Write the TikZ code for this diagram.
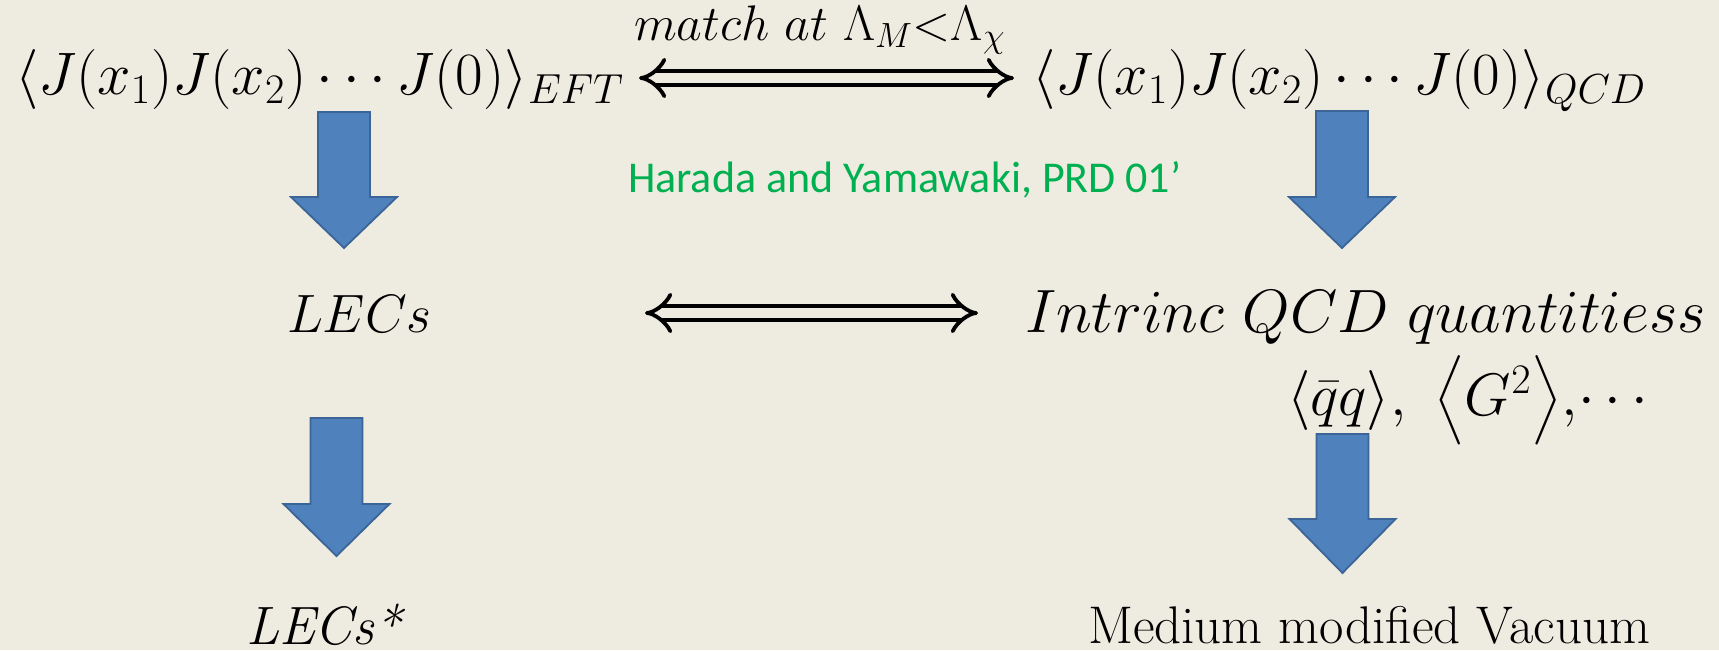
\RequirePackage{fix-cm}
\documentclass[tikz,border=0pt]{standalone}
\usepackage{amsmath}
\usepackage{fontspec}
\newfontfamily\calibri{Carlito}
\usetikzlibrary{arrows.meta}
\definecolor{paper}{HTML}{EEECE1}
\definecolor{arrowfill}{HTML}{4F81BD}
\definecolor{arrowline}{HTML}{3B6597}
\definecolor{citegreen}{HTML}{00B050}

% block arrow pointing down: centre x, top of stem, base of head, tip
\newcommand\blockarrow[4]{%
  \filldraw[blockarrow] (#1-26,#2) -- (#1+26,#2) -- (#1+26,#3) -- (#1+53,#3)
    -- (#1,#4) -- (#1-53,#3) -- (#1-26,#3) -- cycle;}

\begin{document}
\begin{tikzpicture}[x=0.5pt,y=-0.5pt,
  txt/.style={inner sep=0pt,outer sep=0pt,anchor=base west},
  blockarrow/.style={fill=arrowfill,draw=arrowline,line width=0.9pt,line join=miter},
  equiv/.style={double=paper,double distance=5pt,line width=1.9pt,
    {Implies}-{Implies}}]
  \fill[paper] (0,0) rectangle (1719,650);
  \useasboundingbox (0,0) rectangle (1719,650);

  % correlators on both sides
  \node[txt,font=\fontsize{30}{36}\selectfont] (eft) at (15,94)
    {$\langle J(x_1)J(x_2)\cdots J(0)\rangle_{EFT}$};
  \node[txt,font=\fontsize{30}{36}\selectfont] (qcd) at (1032,94)
    {$\langle J(x_1)J(x_2)\cdots J(0)\rangle_{QCD}$};
  \node[txt,font=\fontsize{25}{30}\selectfont] (match) at (634,40)
    {$match\ at\ \Lambda_M{<}\Lambda_\chi$};
  \node[txt,font=\calibri\fontsize{22}{26}\selectfont,text=citegreen] (cite) at (628,192)
    {Harada and Yamawaki, PRD 01’};

  % second row
  \node[txt,font=\fontsize{27}{32}\selectfont] (lecs) at (287,332) {$LECs$};
  \node[txt,font=\fontsize{30.6}{36}\selectfont] (intr) at (1025,332)
    {$Intrinc\ QCD\ quantitiess$};
  \node[txt,font=\fontsize{30}{36}\selectfont] (cond) at (1287,415)
    {$\langle\bar{q}q\rangle,\ \bigl\langle G^2\bigr\rangle{,}\!\cdots$};

  % bottom row
  \node[txt,font=\fontsize{27}{32}\selectfont\itshape] (lecsm) at (246,644) {LECs*};
  \node[txt,font=\fontsize{26.5}{32}\selectfont] (vac) at (1088,643)
    {Medium modified Vacuum};

  % equivalence arrows
  \coordinate (t1) at (639,78);
  \coordinate (t2) at (1014,78);
  \coordinate (m1) at (645,313);
  \coordinate (m2) at (978,313);
  \draw[equiv] (t1) -- (t2);
  \draw[equiv] (m1) -- (m2);

  % block arrows
  \blockarrow{344}{112}{197}{248}
  \blockarrow{1342}{111}{197}{248}
  \blockarrow{336.5}{418}{504}{556}
  \blockarrow{1342.5}{434}{519}{573}
\end{tikzpicture}
\end{document}
